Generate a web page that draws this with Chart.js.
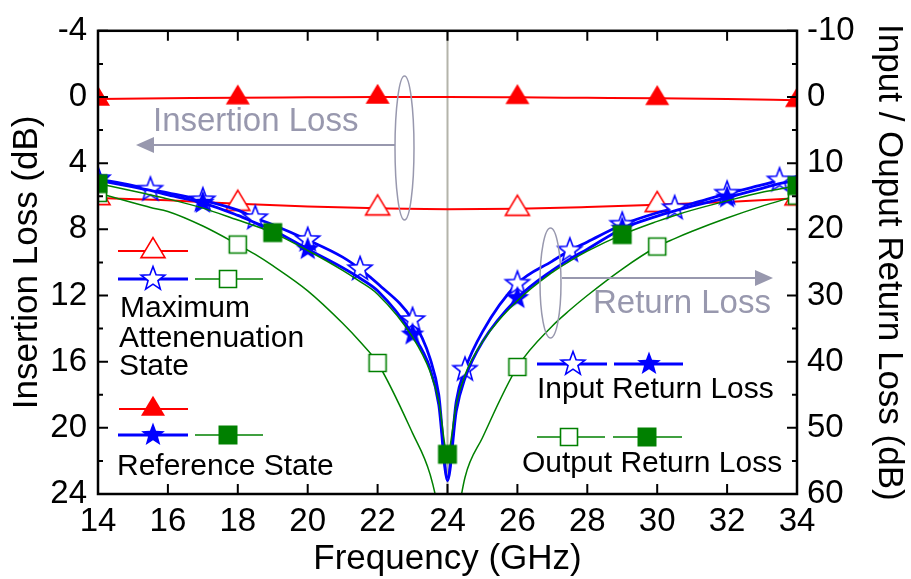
<!DOCTYPE html>
<html>
<head>
<meta charset="utf-8">
<title>Insertion Loss / Return Loss</title>
<script src="https://cdn.jsdelivr.net/npm/chart.js@4.4.0/dist/chart.umd.min.js"></script>
<style>
  html, body { margin: 0; padding: 0; background: #fff; }
  #wrap { width: 911px; height: 579px; }
</style>
</head>
<body>
<div id="wrap"><canvas id="chart" width="911" height="579"></canvas></div>
<script>
// ===== DATA =====
// insertion loss (left axis, dB)
const freqIL = [14, 16, 18, 20, 22, 24, 26, 28, 30, 32, 34];
const ilReference = [0.12, 0.08, 0.04, 0.02, 0.0, 0.0, 0.02, 0.05, 0.08, 0.13, 0.2];
const ilMaxAtten = [6.1, 6.25, 6.45, 6.62, 6.73, 6.78, 6.75, 6.65, 6.52, 6.35, 6.12];

// return loss (right axis, dB)
const freqRL = [14, 15, 15.5, 16, 17, 18, 18.5, 19, 20, 21, 21.5, 22, 23, 23.5, 23.75, 24,
                24.25, 24.5, 25, 26, 27, 27.5, 28, 29, 30, 30.5, 31, 32, 33, 33.5, 34];
const inRlMaxAtten = [12.4, 13.4, 14.0, 14.5, 15.6, 17.1, 18.3, 19.3, 21.6, 24.2, 26.0, 28.2, 33.7, 39.5, 45.0, 57.5,
                      46.0, 41.2, 35.5, 28.2, 24.8, 23.2, 21.9, 19.3, 17.5, 16.8, 16.1, 14.6, 13.3, 12.6, 12.0];
const inRlReference = [12.6, 13.6, 14.1, 14.8, 16.0, 17.9, 19.0, 20.1, 23.0, 25.8, 27.4, 29.3, 35.9, 41.0, 46.5, 58.0,
                       47.5, 42.5, 37.0, 30.4, 26.2, 24.5, 23.0, 19.9, 18.0, 17.2, 16.5, 15.2, 13.8, 13.1, 12.6];
const outRlMaxAtten = [14.5, 16.0, 16.7, 17.3, 19.5, 22.3, 23.8, 25.5, 29.3, 34.2, 37.0, 40.2, 50.8, 57.0, 63.0, 75.0,
                       65.0, 57.5, 51.5, 40.8, 34.6, 32.2, 30.0, 26.0, 22.6, 21.4, 20.3, 18.3, 16.5, 15.7, 14.9];
const outRlReference = [13.1, 14.2, 14.8, 15.4, 16.8, 18.6, 19.5, 20.5, 23.2, 26.2, 27.9, 29.8, 36.3, 41.5, 46.0, 54.0,
                        46.5, 42.0, 37.0, 30.8, 26.5, 24.8, 23.3, 20.8, 18.8, 17.9, 17.1, 15.7, 14.4, 13.9, 13.4];

// frequencies where a symbol is drawn on each curve
const markIL = [14, 18, 22, 26, 30, 34];
const markInMax = [14, 15.5, 17, 18.5, 20, 21.5, 23, 24.5, 26, 27.5, 29, 30.5, 32, 33.5];
const markInRef = [14, 17, 20, 23, 26, 29, 32];
const markOutMax = [14, 18, 22, 26, 30, 34];
const markOutRef = [14, 19, 24, 29, 34];

// axes
const xTicks = [14, 16, 18, 20, 22, 24, 26, 28, 30, 32, 34];
const yTicks = [-4, 0, 4, 8, 12, 16, 20, 24];
const yMinor = [-2, 2, 6, 10, 14, 18, 22];
const y2Ticks = [-10, 0, 10, 20, 30, 40, 50, 60];
const y2Minor = [-5, 5, 15, 25, 35, 45, 55];
const centerFreq = 24;

// ===== STYLE =====
const RED = '#ff0000';
const BLUE = '#0000ff';
const GREEN = '#008000';
const NOTE = '#9898ae';
const FONT = "'Liberation Sans', Arial, sans-serif";

// marker images, drawn once and handed to Chart.js as pointStyle
function makeMarker(shape, filled, color) {
    const c = document.createElement('canvas');
    c.width = 34; c.height = 34;
    const g = c.getContext('2d');
    const m = 17;
    g.beginPath();
    if (shape === 'triangle') {
        const w = 24, h = 20;
        g.moveTo(m, m - h * 2 / 3);
        g.lineTo(m + w / 2, m + h / 3);
        g.lineTo(m - w / 2, m + h / 3);
        g.closePath();
    } else if (shape === 'star') {
        const R = 12.5, r = 5.2;
        for (let i = 0; i < 10; i++) {
            const a = -Math.PI / 2 + i * Math.PI / 5;
            const rr = i % 2 === 0 ? R : r;
            const px = m + Math.cos(a) * rr, py = m + Math.sin(a) * rr;
            if (i === 0) g.moveTo(px, py); else g.lineTo(px, py);
        }
        g.closePath();
    } else {
        const s = filled ? 19 : 17;
        g.rect(m - s / 2, m - s / 2, s, s);
    }
    g.lineJoin = 'miter';
    if (filled) {
        g.fillStyle = color;
        g.fill();
    } else {
        g.fillStyle = '#ffffff';
        g.fill();
        g.lineWidth = 1.6;
        g.strokeStyle = color;
        g.stroke();
    }
    return c;
}

const triOpen = makeMarker('triangle', false, RED);
const triFull = makeMarker('triangle', true, RED);
const starOpen = makeMarker('star', false, BLUE);
const starFull = makeMarker('star', true, BLUE);
const sqOpen = makeMarker('square', false, GREEN);
const sqFull = makeMarker('square', true, GREEN);

function points(xs, ys) {
    return xs.map((x, i) => ({ x: x, y: ys[i] }));
}

function series(label, xs, ys, marks, color, width, marker, axis) {
    return {
        label: label,
        data: points(xs, ys),
        yAxisID: axis,
        borderColor: color,
        borderWidth: width,
        fill: false,
        cubicInterpolationMode: 'monotone',
        pointStyle: marker,
        pointRadius: ctx => (ctx.raw && marks.includes(ctx.raw.x)) ? 9 : 0,
        pointHoverRadius: 0
    };
}

// ===== PLUGIN: frame, inward ticks, legend, notes =====
const decorations = {
    id: 'decorations',
    beforeDatasetsDraw(chart) {
        const { ctx, chartArea: a, scales } = chart;
        const x = scales.x.getPixelForValue(centerFreq);
        ctx.save();
        ctx.strokeStyle = '#b4b4aa';
        ctx.lineWidth = 2;
        ctx.beginPath();
        ctx.moveTo(x, a.top);
        ctx.lineTo(x, a.bottom);
        ctx.stroke();
        ctx.restore();
    },
    afterDatasetsDraw(chart) {
        const { ctx, chartArea: a, scales } = chart;
        ctx.save();
        ctx.strokeStyle = '#000';
        ctx.lineWidth = 2;
        ctx.beginPath();
        xTicks.forEach(v => {
            const px = scales.x.getPixelForValue(v);
            ctx.moveTo(px, a.bottom); ctx.lineTo(px, a.bottom - 10);
            ctx.moveTo(px, a.top); ctx.lineTo(px, a.top + 10);
        });
        yTicks.forEach(v => {
            const py = scales.y.getPixelForValue(v);
            ctx.moveTo(a.left, py); ctx.lineTo(a.left + 10, py);
        });
        yMinor.forEach(v => {
            const py = scales.y.getPixelForValue(v);
            ctx.moveTo(a.left, py); ctx.lineTo(a.left + 5, py);
        });
        y2Ticks.forEach(v => {
            const py = scales.y2.getPixelForValue(v);
            ctx.moveTo(a.right, py); ctx.lineTo(a.right - 10, py);
        });
        y2Minor.forEach(v => {
            const py = scales.y2.getPixelForValue(v);
            ctx.moveTo(a.right, py); ctx.lineTo(a.right - 5, py);
        });
        ctx.stroke();
        ctx.lineWidth = 2.5;
        ctx.strokeRect(a.left, a.top, a.right - a.left, a.bottom - a.top);
        ctx.restore();
    },
    afterDraw(chart) {
        const ctx = chart.ctx;
        ctx.save();

        function legendLine(x1, x2, y, color, width, img, mx) {
            ctx.strokeStyle = color;
            ctx.lineWidth = width;
            ctx.beginPath();
            ctx.moveTo(x1, y);
            ctx.lineTo(x2, y);
            ctx.stroke();
            ctx.drawImage(img, mx - img.width / 2, y - img.height / 2);
        }
        function text(str, x, y, size, color) {
            ctx.fillStyle = color;
            ctx.font = size + 'px ' + FONT;
            ctx.textBaseline = 'alphabetic';
            ctx.textAlign = 'left';
            ctx.fillText(str, x, y);
        }
        function arrow(x1, xt, y, dir) {
            ctx.strokeStyle = NOTE;
            ctx.fillStyle = NOTE;
            ctx.lineWidth = 2;
            ctx.beginPath();
            ctx.moveTo(x1, y);
            ctx.lineTo(xt - dir * 14, y);
            ctx.stroke();
            ctx.beginPath();
            ctx.moveTo(xt, y);
            ctx.lineTo(xt - dir * 18, y - 8);
            ctx.lineTo(xt - dir * 18, y + 8);
            ctx.closePath();
            ctx.fill();
        }
        function ellipse(cx, cy, rx, ry) {
            ctx.strokeStyle = NOTE;
            ctx.lineWidth = 1.5;
            ctx.beginPath();
            ctx.ellipse(cx, cy, rx, ry, 0, 0, Math.PI * 2);
            ctx.stroke();
        }

        // left legend: maximum attenuation state
        legendLine(118, 188, 251, RED, 2, triOpen, 153);
        legendLine(118, 188, 279, BLUE, 2.8, starOpen, 153);
        legendLine(195, 263, 279, GREEN, 1.5, sqOpen, 228);
        text('Maximum', 120, 317, 30, '#000');
        text('Attenenuation', 119, 347, 30, '#000');
        text('State', 119, 375, 30, '#000');

        // left legend: reference state
        legendLine(119, 188, 409, RED, 2, triFull, 153);
        legendLine(118, 188, 435, BLUE, 2.8, starFull, 153);
        legendLine(195, 263, 435, GREEN, 1.5, sqFull, 228);
        text('Reference State', 117, 475, 30, '#000');

        // right legend
        legendLine(537, 607, 364, BLUE, 2.8, starOpen, 573);
        legendLine(614, 683, 364, BLUE, 2.8, starFull, 649);
        text('Input Return Loss', 537, 398, 30, '#000');
        legendLine(537, 605, 437, GREEN, 1.5, sqOpen, 569);
        legendLine(613, 682, 437, GREEN, 1.5, sqFull, 647);
        text('Output Return Loss', 522, 472, 30, '#000');

        // grey notes
        ellipse(404.5, 148, 9.5, 72);
        arrow(395, 136, 145, -1);
        text('Insertion Loss', 153, 131, 33, NOTE);
        ellipse(550.5, 283, 10.5, 55);
        arrow(562, 773, 278, 1);
        text('Return Loss', 593, 313, 33, NOTE);

        ctx.restore();
    }
};

// ===== CHART =====
const tickFont = { family: FONT, size: 33 };
const titleFont = { family: FONT, size: 35, lineHeight: 1.1 };

new Chart(document.getElementById('chart'), {
    type: 'line',
    data: {
        datasets: [
            series('Output RL, reference', freqRL, outRlReference, markOutRef, GREEN, 1.5, sqFull, 'y2'),
            series('Input RL, reference', freqRL, inRlReference, markInRef, BLUE, 2.8, starFull, 'y2'),
            series('Input RL, max attenuation', freqRL, inRlMaxAtten, markInMax, BLUE, 2.8, starOpen, 'y2'),
            series('Output RL, max attenuation', freqRL, outRlMaxAtten, markOutMax, GREEN, 1.5, sqOpen, 'y2'),
            series('IL, reference', freqIL, ilReference, markIL, RED, 2, triFull, 'y'),
            series('IL, max attenuation', freqIL, ilMaxAtten, markIL, RED, 2, triOpen, 'y')
        ]
    },
    options: {
        responsive: false,
        animation: false,
        events: [],
        devicePixelRatio: 1,
        layout: { padding: { top: 21, left: 0, right: 0, bottom: 0 } },
        plugins: {
            legend: { display: false },
            tooltip: { enabled: false }
        },
        scales: {
            x: {
                type: 'linear',
                min: 14,
                max: 34,
                grid: { display: false, drawTicks: false },
                border: { display: false },
                afterBuildTicks: s => { s.ticks = xTicks.map(v => ({ value: v })); },
                afterFit: s => { s.height = 85; },
                ticks: { color: '#000', font: tickFont, padding: 8, maxRotation: 0, autoSkip: false },
                title: { display: true, text: 'Frequency (GHz)', color: '#000', font: titleFont, padding: { top: 0, bottom: 0 } }
            },
            y: {
                type: 'linear',
                position: 'left',
                reverse: true,
                min: -4,
                max: 24,
                grid: { display: false, drawTicks: false },
                border: { display: false },
                afterBuildTicks: s => { s.ticks = yTicks.map(v => ({ value: v })); },
                afterFit: s => { s.width = 98; },
                ticks: { color: '#000', font: tickFont, padding: 11 },
                title: { display: true, text: 'Insertion Loss (dB)', color: '#000', font: titleFont, padding: { top: 8, bottom: 0 } }
            },
            y2: {
                type: 'linear',
                position: 'right',
                reverse: true,
                min: -10,
                max: 60,
                grid: { display: false, drawTicks: false },
                border: { display: false },
                afterBuildTicks: s => { s.ticks = y2Ticks.map(v => ({ value: v })); },
                afterFit: s => { s.width = 114; },
                ticks: { color: '#000', font: tickFont, padding: 10 },
                title: { display: true, text: 'Input / Ouput Return Loss (dB)', color: '#000', font: titleFont, padding: { top: 3, bottom: 0 } }
            }
        }
    },
    plugins: [decorations]
});
</script>
</body>
</html>
